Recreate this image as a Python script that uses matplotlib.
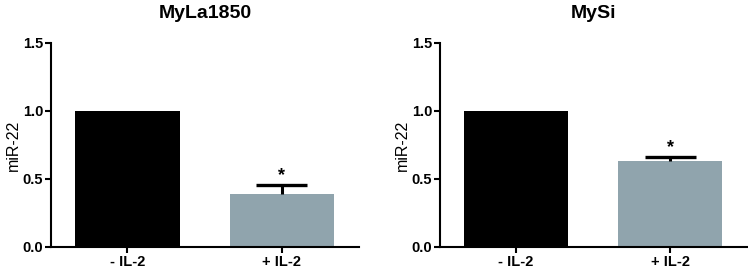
import matplotlib.pyplot as plt

plt.rcParams['font.family'] = ['Liberation Sans', 'DejaVu Sans']

groups = ["- IL-2", "+ IL-2"]
titles = ["MyLa1850", "MySi"]
mean_myla = [1.0, 0.39]
err_myla = [0.0, 0.065]
mean_mysi = [1.0, 0.63]
err_mysi = [0.0, 0.035]
colors = ["#000000", "#90A4AD"]

fig = plt.figure(figsize=(7.48, 2.69), dpi=100)
ax1 = fig.add_axes([0.0682, 0.0818, 0.412, 0.7584])
ax2 = fig.add_axes([0.588, 0.0818, 0.411, 0.7584])

for ax, title, means, errs in [(ax1, titles[0], mean_myla, err_myla),
                               (ax2, titles[1], mean_mysi, err_mysi)]:
    x = list(range(len(groups)))
    ax.bar(x, means, width=0.675, color=colors, zorder=2)
    # upper error bar only (SEM) for the treated group
    top = means[1] + errs[1]
    ax.vlines(x[1], means[1], top, color='black', lw=2.2, zorder=3)
    ax.hlines(top, x[1] - 0.165, x[1] + 0.165, color='black', lw=2.4, zorder=3)
    ax.text(x[1], top + 0.005, "*", ha='center', va='bottom',
            fontsize=13, fontweight='bold')
    ax.set_xlim(-0.494, 1.5)
    ax.set_ylim(0, 1.5)
    ax.set_yticks([0.0, 0.5, 1.0, 1.5])
    ax.set_yticklabels(["0.0", "0.5", "1.0", "1.5"])
    ax.set_xticks(x)
    ax.set_xticklabels(groups)
    for lab in ax.get_xticklabels() + ax.get_yticklabels():
        lab.set_fontweight('bold')
        lab.set_fontsize(10.5)
    ax.spines['top'].set_visible(False)
    ax.spines['right'].set_visible(False)
    ax.spines['left'].set_linewidth(1.5)
    ax.spines['bottom'].set_linewidth(1.5)
    ax.tick_params(axis='both', width=1.5, length=4, pad=1.5)
    ax.set_ylabel("miR-22", fontsize=11.5, labelpad=1)
    ax.set_title(title, fontsize=14, fontweight='bold', pad=18)

fig.savefig("out.png", dpi=100)
